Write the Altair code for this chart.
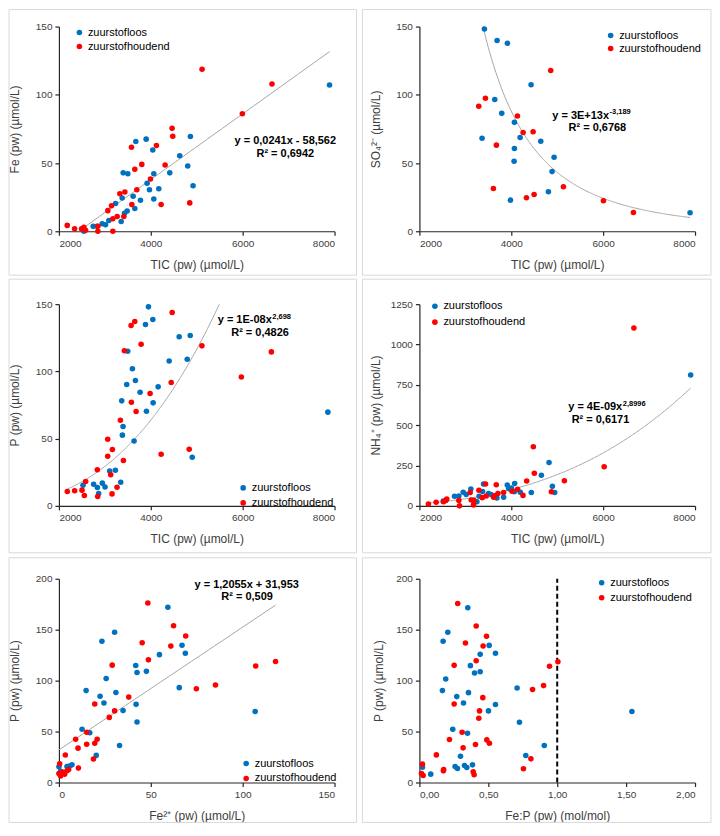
import altair as alt
import pandas as pd
import numpy as np

SERIES = ["zuurstofloos", "zuurstofhoudend"]
BLUE = "#0070C0"
RED = "#FF0000"
FONT = "Liberation Sans"

# ---------- Panel 1: Fe vs TIC ----------
p1_blue_tic = [2543, 2746, 2830, 2942, 3014, 3087, 3232, 3355, 3377, 3399, 3428, 3486, 3500, 3616, 3652,
               3674, 3775, 3899, 3920, 3971, 4043, 4065, 4065, 4174, 4413, 4630, 4804, 4862, 4920, 7891]
p1_blue_fe = [0.0, 3.6, 3.6, 5.5, 4.8, 7.9, 20.3, 7.2, 24.4, 42.8, 13.2, 14.8, 42.1, 25.6, 16.7,
              65.8, 22.7, 67.5, 35.2, 30.4, 59.6, 42.1, 23.7, 31.1, 42.8, 55.3, 47.8, 69.4, 33.3, 107.2]
p1_red_tic = [2181, 2341, 2493, 2543, 2580, 2848, 2848, 3065, 3145, 3174, 3174, 3268, 3326, 3413, 3435,
              3580, 3587, 3652, 3696, 3804, 3993, 4123, 4225, 4312, 4464, 4478, 4848, 5116, 5993, 6638]
p1_red_fe = [4.3, 1.9, 1.9, 2.9, 0.7, 3.6, 0.0, 15.1, 18.7, 9.1, 0.0, 10.8, 27.5, 10.8, 28.7,
             61.5, 19.6, 45.5, 30.4, 49.0, 38.3, 62.9, 19.6, 48.6, 75.4, 69.6, 20.8, 118.7, 86.1, 107.9]

# ---------- Panel 2: SO4 vs TIC ----------
p2_blue_tic = [3415, 3691, 3916, 4431, 3640, 3792, 4068, 3364, 4192, 4642, 4068, 4061, 4932, 4888, 4808, 3981, 7892]
p2_blue_so4 = [148.2, 139.8, 137.7, 107.3, 96.5, 86.4, 79.8, 68.2, 68.7, 66.0, 60.6, 51.3, 54.2, 43.7, 29.0, 22.8, 13.5]
p2_red_tic = [3292, 3437, 3676, 4134, 4257, 4475, 4859, 3611, 4330, 4497, 5135, 6006, 6659]
p2_red_so4 = [91.6, 97.4, 63.1, 84.4, 72.4, 72.9, 117.8, 31.4, 24.5, 27.0, 32.6, 22.3, 13.7]

# ---------- Panel 3: P vs TIC ----------
p3_blue_tic = [2524, 2756, 2836, 2865, 2945, 3004, 3105, 3229, 3345, 3367, 3382, 3396, 3476, 3498, 3600,
               3636, 3665, 3767, 3905, 3884, 3949, 4044, 4051, 4160, 4400, 4618, 4793, 4858, 4902, 7855]
p3_blue_p = [15.4, 16.1, 13.6, 9.2, 16.9, 14.1, 26.0, 26.5, 17.6, 78.1, 52.6, 59.0, 90.2, 115.0, 101.9,
             48.3, 93.2, 84.5, 70.4, 134.9, 148.0, 138.6, 76.6, 88.5, 107.8, 125.7, 109.1, 126.7, 36.2, 69.7]
p3_red_tic = [2182, 2342, 2502, 2553, 2582, 2836, 2844, 3062, 3062, 3127, 3164, 3156, 3265, 3338, 3404,
              3425, 3578, 3571, 3651, 3680, 3789, 3985, 4225, 4444, 4465, 4836, 5113, 5971, 6625]
p3_red_p = [10.7, 11.2, 11.7, 7.7, 18.1, 26.8, 6.9, 49.6, 36.9, 23.1, 41.9, 8.9, 13.9, 63.7, 33.7,
            115.3, 77.1, 134.1, 137.1, 70.2, 120.2, 83.5, 38.4, 91.7, 143.8, 42.1, 119.0, 95.9, 114.5]

# ---------- Panel 4: NH4 vs TIC ----------
p4_blue_tic = [2520, 2764, 2858, 2953, 3018, 3120, 3251, 3300, 3375, 3396, 3505, 3560, 3687, 3833, 3913,
               3942, 4000, 4073, 4065, 4196, 4436, 4655, 4822, 4895, 4945, 7905]
p4_blue_nh4 = [30, 59, 61, 85, 71, 105, 26, 60, 89, 135, 77, 70, 49, 53, 129,
               107, 110, 138, 87, 85, 83, 190, 269, 121, 83, 811]
p4_red_tic = [2196, 2364, 2524, 2575, 2596, 2858, 2873, 3105, 3127, 3185, 3178, 3295, 3367, 3440, 3455,
              3615, 3636, 3673, 3709, 3833, 4015, 4138, 4255, 4335, 4480, 4502, 4873, 5156, 6022, 6669]
p4_red_nh4 = [12, 22, 26, 34, 42, 34, 0, 83, 36, 34, 6, 97, 51, 136, 61,
              53, 63, 131, 77, 83, 91, 103, 65, 154, 366, 202, 87, 156, 243, 1102]

# ---------- Panel 5: P vs Fe2+ ----------
p5_blue_fe = [0.0, 0.9, 4.4, 5.7, 7.1, 12.6, 14.8, 16.8, 20.3, 22.4, 23.4, 24.5, 25.7, 30.3, 31.0,
              33.0, 34.9, 41.8, 42.0, 42.5, 42.5, 47.6, 54.7, 59.3, 65.5, 67.0, 68.8, 106.8]
p5_blue_p = [15.4, 10.9, 15.7, 16.1, 17.3, 52.3, 90.2, 48.8, 26.6, 84.7, 138.7, 78.0, 102.1, 147.4, 88.3,
             36.3, 70.6, 114.9, 76.7, 107.9, 59.4, 109.1, 125.5, 172.1, 93.1, 134.8, 126.8, 69.7]
p5_red_fe = [0.4, 0.0, 0.9, 2.0, 3.1, 3.5, 4.4, 5.3, 9.1, 10.4, 10.6, 15.1, 15.1, 18.8, 19.5, 19.5,
             20.8, 27.4, 29.0, 30.3, 38.0, 45.3, 48.4, 48.7, 60.9, 62.4, 69.0, 74.8, 85.2, 107.1, 117.9]
p5_red_p = [18.3, 8.7, 6.4, 10.3, 8.0, 27.0, 11.6, 12.8, 42.4, 33.7, 14.1, 37.6, 49.4, 23.1, 77.0, 38.5,
            42.4, 63.9, 115.2, 70.3, 83.8, 137.1, 176.2, 120.4, 133.9, 153.8, 143.8, 92.1, 95.7, 114.3, 118.8]

# ---------- Panel 6: P vs Fe:P ----------
p6_blue_fep = [0.022, 0.082, 0.172, 0.206, 0.167, 0.191, 0.242, 0.259, 0.271, 0.276, 0.298, 0.320, 0.327,
               0.344, 0.349, 0.351, 0.356, 0.370, 0.385, 0.400, 0.441, 0.441, 0.501, 0.506, 0.552, 0.552,
               0.709, 0.726, 0.772, 0.906, 1.542]
p6_blue_p = [15.0, 8.2, 138.6, 147.4, 90.2, 101.6, 52.3, 15.7, 84.3, 13.7, 25.8, 78.1, 16.7,
             14.7, 48.4, 171.6, 88.2, 114.7, 17.3, 107.5, 108.8, 125.8, 70.3, 134.6, 126.8, 76.5,
             92.8, 59.2, 26.5, 36.3, 69.6]
p6_red_fep = [0.022, 0.015, 0.027, 0.123, 0.174, 0.176, 0.218, 0.252, 0.252, 0.278, 0.310, 0.317, 0.334,
              0.407, 0.390, 0.397, 0.412, 0.412, 0.431, 0.436, 0.460, 0.462, 0.487, 0.489, 0.508,
              0.755, 0.809, 0.821, 0.901, 0.944, 1.005]
p6_red_p = [18.0, 8.8, 6.9, 27.1, 11.4, 12.7, 42.2, 77.1, 115.0, 175.8, 49.3, 34.0, 136.9,
            37.3, 10.5, 7.5, 153.6, 119.6, 63.1, 70.3, 83.3, 134.0, 143.5, 41.8, 38.6,
            13.4, 23.2, 91.2, 95.1, 114.1, 118.6]

ONE = pd.DataFrame({"k": [0]})


def points_df(bx, by, rx, ry):
    return pd.DataFrame({
        "x": list(bx) + list(rx),
        "y": list(by) + list(ry),
        "s": [SERIES[0]] * len(bx) + [SERIES[1]] * len(rx),
    })


def text_layer(txt, x, y, size=11, align="center"):
    return alt.Chart(ONE).mark_text(
        text=txt, font=FONT, fontSize=size, fontWeight="bold", color="#000000",
        align=align, baseline="middle"
    ).encode(x=alt.datum(x), y=alt.datum(y))


def panel(df, xdom, xvals, xtitle, ydom, yvals, ytitle, legxy, rowpad, frame, height,
          extra, xlabel_expr=None, ytitle_x=-44):
    x0, x1, y0, y1 = frame
    xaxis_kw = dict(values=xvals, title=xtitle, titleY=33, titleBaseline="middle")
    if xlabel_expr:
        xaxis_kw["labelExpr"] = xlabel_expr
    else:
        xaxis_kw["format"] = "d"
    box = alt.Chart(ONE).mark_rect(fill="white", fillOpacity=0, stroke="#D9D9D9", strokeWidth=1).encode(
        x=alt.value(x0), x2=alt.value(x1), y=alt.value(y0), y2=alt.value(y1))
    pts = alt.Chart(df).mark_circle(size=31, opacity=1).encode(
        x=alt.X("x:Q", scale=alt.Scale(domain=xdom, nice=False, zero=False), axis=alt.Axis(**xaxis_kw)),
        y=alt.Y("y:Q", scale=alt.Scale(domain=ydom, nice=False, zero=False),
                axis=alt.Axis(values=yvals, title=ytitle, format="d", titleX=ytitle_x,
                              titleY=height / 2, titleBaseline="middle")),
        color=alt.Color("s:N", scale=alt.Scale(domain=SERIES, range=[BLUE, RED]),
                        legend=alt.Legend(title=None, orient="none", legendX=legxy[0], legendY=legxy[1],
                                          symbolSize=31, symbolType="circle", symbolStrokeWidth=0,
                                          symbolOpacity=1, labelFont=FONT, labelFontSize=11,
                                          labelColor="#000000", labelOffset=3, rowPadding=rowpad,
                                          padding=0)),
    )
    return alt.layer(box, *extra, pts).properties(width=276, height=height)


def trend(xs, ys):
    return alt.Chart(pd.DataFrame({"x": xs, "y": ys})).mark_line(
        color="#A6A6A6", strokeWidth=1, clip=True).encode(x="x:Q", y="y:Q")


TIC_VALS = [2000, 4000, 6000, 8000]
TIC_T = "TIC (pw) (µmol/L)"
H1, H2, H3 = 205, 202, 204
COL1 = (-50, 298)
COL2 = (-57, 292)

# trend lines (Excel fits, as printed on the chart)
g1 = np.linspace(min(p1_red_tic), max(p1_blue_tic), 50)
t1 = trend(g1, 0.0241 * g1 - 58.562)
g2 = np.linspace(min(p2_red_tic), max(p2_blue_tic), 200)
t2 = trend(g2, 2.7e13 * g2 ** -3.189)
g3 = np.linspace(min(p3_red_tic), max(p3_blue_tic), 300)
t3 = trend(g3, 1.22e-8 * g3 ** 2.698)
g4 = np.linspace(min(p4_red_tic), max(p4_blue_tic), 200)
t4 = trend(g4, 3.64e-9 * g4 ** 2.8996)
g5 = np.linspace(0, max(p5_red_fe), 50)
t5 = trend(g5, 1.2055 * g5 + 31.953)

c1 = panel(points_df(p1_blue_tic, p1_blue_fe, p1_red_tic, p1_red_fe), [2000, 8000], TIC_VALS, TIC_T,
           [0, 150], [0, 50, 100, 150], "Fe (pw)  (µmol/L)", (15, 0.5), 2, (*COL1, -17, 249), H1,
           [t1, text_layer("y = 0,0241x - 58,562", 6928, 66.3), text_layer("R² = 0,6942", 6928, 56.7)])

c2 = panel(points_df(p2_blue_tic, p2_blue_so4, p2_red_tic, p2_red_so4), [2000, 8000], TIC_VALS, TIC_T,
           [0, 150], [0, 50, 100, 150], "SO₄²⁻ (µmol/L)", (186, 3.5), 1, (*COL2, -17, 249), H1,
           [t2, text_layer("y = 3E+13x", 6129, 84.7, align="right"),
            text_layer("-3,189", 6140, 87.2, size=7.5, align="left"),
            text_layer("R² = 0,6768", 5875, 75.6)])

c3 = panel(points_df(p3_blue_tic, p3_blue_p, p3_red_tic, p3_red_p), [2000, 8000], TIC_VALS, TIC_T,
           [0, 150], [0, 50, 100, 150], "P (pw) (µmol/L)", (179, 178.5), 3, (*COL1, -25, 249), H2,
           [t3, text_layer("y = 1E-08x", 6633, 138.3, align="right"),
            text_layer("2,698", 6645, 140.8, size=7.5, align="left"),
            text_layer("R² = 0,4826", 6378, 128.4)])

c4 = panel(points_df(p4_blue_tic, p4_blue_nh4, p4_red_tic, p4_red_nh4), [2000, 8000], TIC_VALS, TIC_T,
           [0, 1250], [0, 250, 500, 750, 1000, 1250], "NH₄⁺ (pw) (µmol/L)", (10, -3.5), 4,
           (*COL2, -25, 249), H2,
           [t4, text_layer("y = 4E-09x", 6415, 613, align="right"),
            text_layer("2,8996", 6427, 633, size=7.5, align="left"),
            text_layer("R² = 0,6171", 5942, 532)])

c5 = panel(points_df(p5_blue_fe, p5_blue_p, p5_red_fe, p5_red_p), [0, 150], [0, 50, 100, 150],
           "Fe²⁺ (pw) (µmol/L)", [0, 200], [0, 50, 100, 150, 200], "P (pw) (µmol/L)", (182, 179.5), 3,
           (*COL1, -21, 244), H3,
           [t5, text_layer("y = 1,2055x + 31,953", 102.2, 193.6), text_layer("R² = 0,509", 102.4, 182)])

rule6 = alt.Chart(ONE).mark_rule(color="#000000", strokeWidth=2, strokeDash=[5, 3]).encode(
    x=alt.datum(1.0), y=alt.datum(0), y2=alt.datum(200))
c6 = panel(points_df(p6_blue_fep, p6_blue_p, p6_red_fep, p6_red_p), [0, 2], [0, 0.5, 1, 1.5, 2],
           "Fe:P (pw) (mol/mol)", [0, 200], [0, 50, 100, 150, 200], "P (pw) (µmol/L)", (177, -1.5), 3,
           (*COL2, -21, 244), H3, [rule6],
           xlabel_expr="replace(format(datum.value, '.2f'), '.', ',')", ytitle_x=-41)

chart = alt.concat(c1, c2, c3, c4, c5, c6, columns=2, spacing={"row": 73, "column": 85},
                   bounds="flush").resolve_scale(
    color="independent", x="independent", y="independent").resolve_legend(color="independent").properties(
    padding=0, background="white"
).configure_view(stroke=None).configure_axis(
    grid=False, domainColor="#262626", tickColor="#262626", labelColor="#404040", titleColor="#404040",
    labelFont=FONT, titleFont=FONT, labelFontSize=10, titleFontSize=12, titleFontWeight="normal",
    tickSize=4, labelPadding=3, domainWidth=1.2, tickWidth=1.2
)

chart.save("out.html", embed_options={"renderer": "svg", "actions": False})
